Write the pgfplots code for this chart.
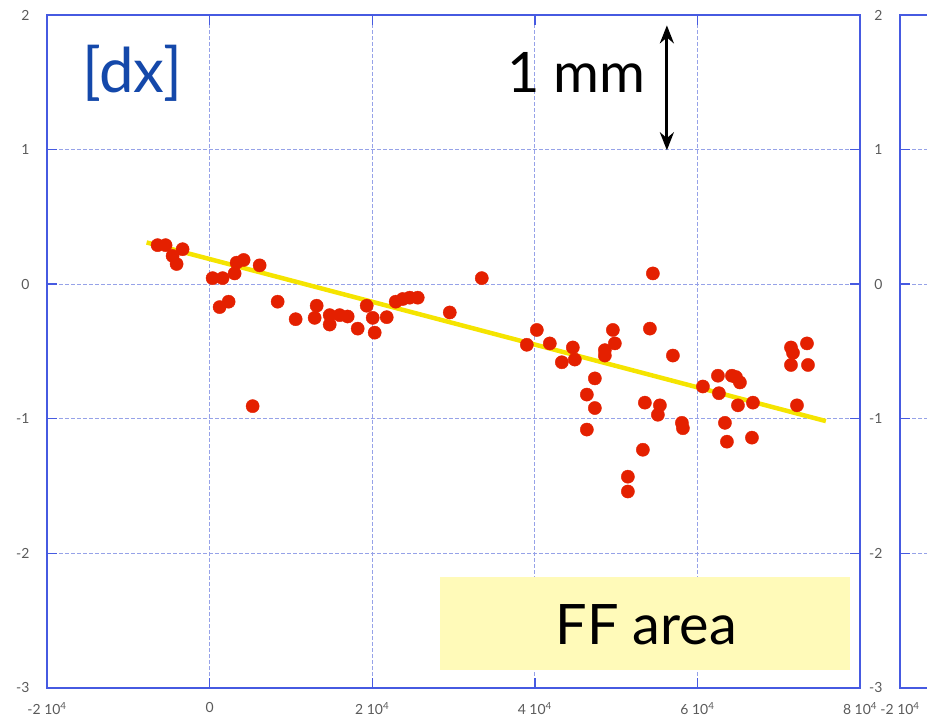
\documentclass[border=0pt]{standalone}
\usepackage{pgfplots}
\pgfplotsset{compat=1.18}
\usetikzlibrary{arrows.meta}
\usepackage{fontspec}
\setmainfont{Lato}
\definecolor{frameblue}{RGB}{70,90,225}
\definecolor{gridblue}{RGB}{150,162,232}
\definecolor{ptred}{RGB}{228,32,0}
\definecolor{lineyellow}{RGB}{245,228,0}
\definecolor{dxblue}{RGB}{20,72,170}
\definecolor{boxyellow}{RGB}{255,250,185}
\definecolor{ticklab}{RGB}{90,90,90}
\pgfplotsset{panel/.style={
  scale only axis, width=813bp, height=673bp,
  xmin=-20000, xmax=80000, ymin=-3, ymax=2,
  xtick={-20000,0,20000,40000,60000,80000},
  xticklabels={-2 10\textsuperscript{4},0,2 10\textsuperscript{4},4 10\textsuperscript{4},6 10\textsuperscript{4},8 10\textsuperscript{4}},
  ytick={-3,-2,-1,0,1,2},
  yticklabels={-3,-2,-1,0,1,2},
  scaled x ticks=false,
  axis line style={draw=frameblue, line width=1.4bp},
  tick style={draw=frameblue, line width=1.4bp},
  major tick length=10bp,
  tick align=inside,
  tick pos=both,
  xticklabel pos=lower, yticklabel pos=left,
  grid=major,
  major grid style={draw=gridblue, dash pattern=on 4bp off 2bp, line width=1.3bp},
  ticklabel style={font=\fontsize{14}{14}\selectfont, text=ticklab},
  yticklabel style={xshift=-14bp},
  xticklabel style={yshift=-11bp},
}}
\pgfplotstableread{
x y
-6400 0.29
-5415 0.29
-4554 0.21
-4062 0.15
-3323 0.26
369 0.045
1600 0.045
3077 0.08
3323 0.16
4185 0.18
6154 0.14
1231 -0.17
2338 -0.13
5292 -0.906
8370 -0.13
10585 -0.26
13170 -0.16
12923 -0.25
14770 -0.30
14770 -0.23
16000 -0.23
16985 -0.24
18215 -0.33
19323 -0.16
20062 -0.25
20308 -0.36
21785 -0.245
22892 -0.13
23754 -0.11
24615 -0.10
25600 -0.10
29540 -0.21
33477 0.045
39016 -0.45
40246 -0.34
41846 -0.44
43323 -0.58
44677 -0.47
44923 -0.56
47385 -0.70
46400 -0.82
47385 -0.92
46400 -1.08
48615 -0.49
48615 -0.53
49600 -0.34
49846 -0.44
51446 -1.43
51446 -1.54
53292 -1.23
54154 -0.33
54523 0.08
53538 -0.88
55385 -0.90
55138 -0.97
56985 -0.53
58092 -1.03
58215 -1.07
60677 -0.76
62523 -0.68
62646 -0.81
64246 -0.68
64738 -0.69
65230 -0.73
64985 -0.90
66831 -0.88
63385 -1.03
63630 -1.17
66708 -1.14
71508 -0.47
71754 -0.51
71508 -0.60
73477 -0.44
73600 -0.60
72246 -0.90
}\pts
\begin{document}
\begin{tikzpicture}
\useasboundingbox (-47bp,-40bp) rectangle (880bp,688bp);
\begin{axis}[panel, at={(0,0)}, anchor=south west]
\addplot[only marks, mark=*, mark size=6.6bp, color=ptred, mark options={draw=ptred, fill=ptred}] table[x=x, y=y] {\pts};
\addplot[lineyellow, line width=4.5bp] coordinates {(-7750,0.31) (75800,-1.017)};
\fill[boxyellow] (axis cs:28308,-2.866) rectangle (axis cs:78769,-2.175);
\node[font=\fontsize{56}{56}\selectfont, text=black] at (axis cs:53700,-2.53) {FF area};
\node[font=\fontsize{62}{62}\selectfont, text=dxblue] at (axis cs:-9500,1.57) {[dx]};
\node[font=\fontsize{56}{56}\selectfont, text=black] at (axis cs:45100,1.574) {1 mm};
\draw[{Stealth[length=18bp,width=14bp]}-{Stealth[length=18bp,width=14bp]}, line width=3bp, black] (axis cs:56246,1.923) -- (axis cs:56246,0.995);
\end{axis}
\begin{scope}
\clip (-47bp,-40bp) rectangle (880bp,688bp);
\begin{axis}[panel, at={(853bp,0)}, anchor=south west]
\end{axis}
\end{scope}
\end{tikzpicture}
\end{document}
